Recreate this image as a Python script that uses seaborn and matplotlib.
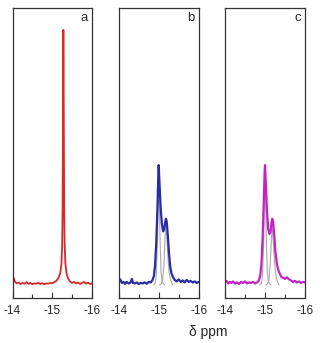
import numpy as np
import pandas as pd
import matplotlib
matplotlib.use('Agg')
import matplotlib.pyplot as plt
import seaborn as sns

# 谱图数据（从图中估读，强度以a峰高归一）
a_ppm = [-14.00, -14.03, -14.06, -14.10, -14.15, -14.20, -14.25, -14.30, -14.35, -14.40,
         -14.45, -14.50, -14.55, -14.60, -14.65, -14.70, -14.75, -14.80, -14.85, -14.90,
         -14.95, -15.00, -15.05, -15.10, -15.15, -15.20, -15.23, -15.25, -15.26, -15.27,
         -15.28, -15.29, -15.30, -15.31, -15.33, -15.36, -15.40, -15.45, -15.50, -15.55,
         -15.60, -15.65, -15.70, -15.75, -15.80, -15.85, -15.90, -15.95, -16.00]
a_int = [0.012, 0.028, 0.014, 0.006, 0.010, 0.004, 0.008, 0.005, 0.011, 0.004,
         0.008, 0.003, 0.006, 0.005, 0.009, 0.004, 0.007, 0.003, 0.006, 0.005,
         0.008, 0.007, 0.011, 0.016, 0.026, 0.045, 0.080, 0.16, 0.30, 0.62,
         1.00, 0.66, 0.32, 0.17, 0.085, 0.045, 0.025, 0.013, 0.008, 0.012,
         0.006, 0.010, 0.004, 0.008, 0.012, 0.005, 0.009, 0.004, 0.006]

b_ppm = [-14.00, -14.04, -14.08, -14.12, -14.16, -14.20, -14.25, -14.30, -14.33, -14.36,
         -14.40, -14.45, -14.50, -14.55, -14.60, -14.65, -14.70, -14.75, -14.80, -14.84,
         -14.88, -14.91, -14.94, -14.97, -14.99, -15.00, -15.02, -15.05, -15.08, -15.11,
         -15.14, -15.16, -15.18, -15.20, -15.23, -15.26, -15.29, -15.32, -15.36, -15.40,
         -15.45, -15.50, -15.55, -15.60, -15.65, -15.70, -15.75, -15.80, -15.85, -15.90,
         -15.95, -16.00]
b_int = [0.010, 0.022, 0.008, 0.012, 0.004, 0.012, 0.006, 0.010, 0.024, 0.008,
         0.006, 0.010, 0.004, 0.008, 0.006, 0.010, 0.005, 0.012, 0.010, 0.018,
         0.035, 0.08, 0.17, 0.31, 0.43, 0.47, 0.40, 0.30, 0.24, 0.21,
         0.22, 0.245, 0.26, 0.25, 0.19, 0.12, 0.07, 0.045, 0.03, 0.02,
         0.014, 0.022, 0.012, 0.018, 0.010, 0.020, 0.012, 0.016, 0.010, 0.014,
         0.008, 0.012]
b_fit1_ppm = [-14.88, -14.91, -14.94, -14.97, -14.99, -15.00, -15.02, -15.04, -15.06, -15.08, -15.11, -15.15]
b_fit1_int = [0.0, 0.008, 0.04, 0.18, 0.36, 0.44, 0.30, 0.14, 0.05, 0.018, 0.006, 0.0]
b_fit2_ppm = [-15.02, -15.06, -15.10, -15.13, -15.16, -15.18, -15.20, -15.23, -15.26, -15.30, -15.35]
b_fit2_int = [0.0, 0.004, 0.02, 0.08, 0.19, 0.235, 0.20, 0.11, 0.05, 0.018, 0.0]

c_ppm = [-14.00, -14.04, -14.08, -14.12, -14.16, -14.20, -14.25, -14.30, -14.35, -14.40,
         -14.45, -14.50, -14.55, -14.60, -14.65, -14.70, -14.75, -14.80, -14.84, -14.88,
         -14.91, -14.94, -14.97, -14.99, -15.00, -15.02, -15.05, -15.08, -15.11, -15.14,
         -15.16, -15.18, -15.20, -15.23, -15.26, -15.30, -15.34, -15.38, -15.42, -15.46,
         -15.50, -15.55, -15.60, -15.65, -15.70, -15.75, -15.80, -15.85, -15.90, -15.95,
         -16.00]
c_int = [0.010, 0.016, 0.006, 0.012, 0.008, 0.014, 0.006, 0.010, 0.004, 0.012,
         0.008, 0.014, 0.006, 0.010, 0.008, 0.012, 0.006, 0.010, 0.016, 0.035,
         0.08, 0.18, 0.33, 0.44, 0.47, 0.40, 0.29, 0.22, 0.20,
         0.21, 0.24, 0.26, 0.25, 0.20, 0.13, 0.08, 0.055, 0.04, 0.03, 0.028,
         0.024, 0.030, 0.022, 0.018, 0.012, 0.016, 0.010, 0.014, 0.008, 0.012,
         0.010]
c_fit1_ppm = [-14.88, -14.91, -14.94, -14.97, -14.99, -15.00, -15.02, -15.04, -15.06, -15.08, -15.11, -15.15]
c_fit1_int = [0.0, 0.008, 0.04, 0.19, 0.37, 0.44, 0.30, 0.14, 0.05, 0.018, 0.006, 0.0]
c_fit2_ppm = [-15.02, -15.06, -15.10, -15.13, -15.16, -15.18, -15.20, -15.23, -15.26, -15.30, -15.35]
c_fit2_int = [0.0, 0.004, 0.02, 0.08, 0.18, 0.225, 0.19, 0.11, 0.05, 0.018, 0.0]

panel_labels = ['a', 'b', 'c']
x_ticks = [-14, -15, -16]
x_tick_labels = ['-14', '-15', '-16']

sns.set_style('white')
plt.rcParams['font.family'] = ['Liberation Sans', 'DejaVu Sans']

fig = plt.figure(figsize=(3.23, 3.43), dpi=100)
W, H = 323, 343
boxes = [(12.5, 92), (118.7, 198.7), (225, 305)]
top, bottom = 8, 298
axes = []
for l, r in boxes:
    ax = fig.add_axes([l / W, 1 - bottom / H, (r - l) / W, (bottom - top) / H])
    axes.append(ax)

# 主谱线与拟合分峰
sns.lineplot(x=a_ppm, y=a_int, ax=axes[0], color='#d42a2a', linewidth=1.3, estimator=None)

for ax, px, py in [(axes[1], b_fit1_ppm, b_fit1_int), (axes[1], b_fit2_ppm, b_fit2_int),
                   (axes[2], c_fit1_ppm, c_fit1_int), (axes[2], c_fit2_ppm, c_fit2_int)]:
    sns.lineplot(x=px, y=py, ax=ax, color='#a8a8a8', linewidth=0.8, estimator=None)
sns.lineplot(x=b_ppm, y=b_int, ax=axes[1], color='#2b2ba6', linewidth=1.6, estimator=None)
sns.lineplot(x=c_ppm, y=c_int, ax=axes[2], color='#c424c4', linewidth=1.6, estimator=None)

for ax, lab in zip(axes, panel_labels):
    ax.set_xlim(-14, -16)
    ax.set_ylim(-0.051, 1.086)
    ax.set_yticks([])
    ax.set_xticks(x_ticks)
    ax.set_xticklabels(x_tick_labels, fontsize=8.5)
    ax.set_xticks([-14.5, -15.5], minor=True)
    ax.tick_params(axis='x', which='major', direction='in', length=4, width=0.8,
                   bottom=True, pad=5, color='#333333')
    ax.tick_params(axis='x', which='minor', direction='in', length=3, width=0.8,
                   bottom=True, color='#333333')
    for s in ax.spines.values():
        s.set_color('#333333')
        s.set_linewidth(0.9)
    ax.text(0.95, 0.985, lab, transform=ax.transAxes, ha='right', va='top', fontsize=9.5)

fig.text(208 / W, 1 - 332 / H, 'δ ppm', ha='center', va='center', fontsize=10)

plt.savefig('out.png', dpi=100)
